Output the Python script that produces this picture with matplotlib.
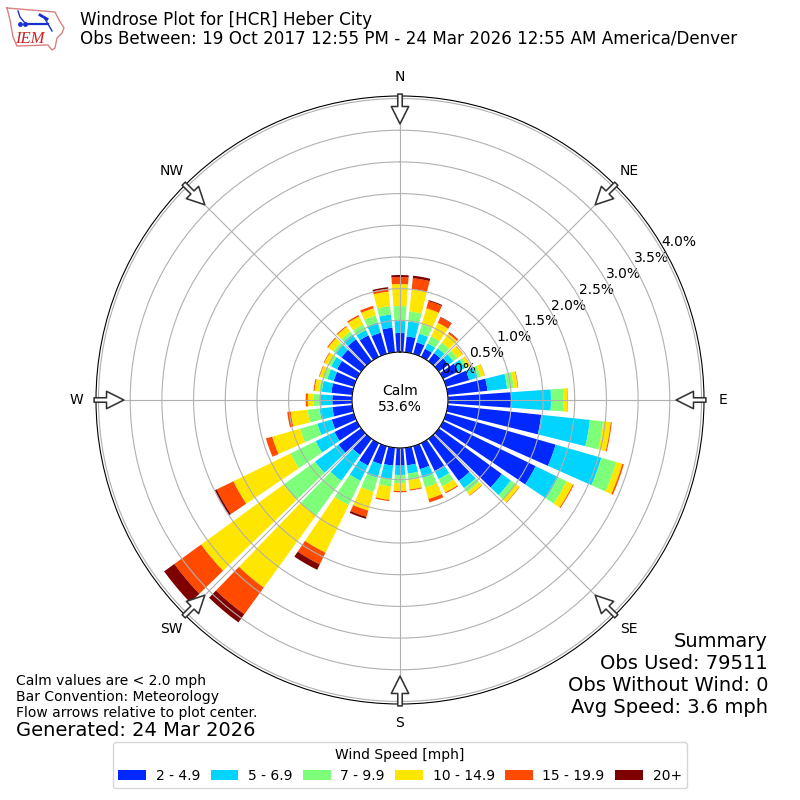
import numpy as np
import matplotlib
matplotlib.use("Agg")
import matplotlib.pyplot as plt

directions = list(range(0, 360, 10))
speed_labels = ["2 - 4.9", "5 - 6.9", "7 - 9.9", "10 - 14.9", "15 - 19.9", "20+"]
colors = ["#0028ff", "#00d4ff", "#7dff7a", "#ffe600", "#ff4a00", "#7f0000"]
rticks = [0.0, 0.5, 1.0, 1.5, 2.0, 2.5, 3.0, 3.5, 4.0]
compass = ["N", "NE", "E", "SE", "S", "SW", "W", "NW"]
compass_deg = [0, 45, 90, 135, 180, 225, 270, 315]

# percent of obs per direction, one list per speed bin
bin_2_5 = [.300, .252, .189, .142, .158, .189, .268, .379, .631, .994, 1.483, 1.798,
           1.625, 1.230, .820, .489, .379, .279, .279, .284, .300, .394, .315, .442,
           .394, .363, .315, .311, .331, .331, .347, .385, .426, .379, .347, .391]
bin_5_7 = [.189, .237, .142, .095, .095, .095, .110, .142, .312, .631, .773, .751,
           .394, .174, .142, .142, .142, .131, .147, .211, .221, .268, .505, .457,
           .331, .237, .205, .205, .153, .104, .104, .107, .095, .095, .169, .208]
bin_7_10 = [.237, .158, .158, .126, .110, .079, .047, .047, .106, .194, .211, .243,
            .150, .095, .079, .126, .158, .103, .131, .120, .229, .426, .678, .615,
            .442, .284, .189, .095, .043, .060, .050, .057, .055, .095, .115, .134]
bin_10_15 = [.347, .355, .260, .237, .174, .103, .047, .063, .063, .069, .120, .101,
             .110, .071, .063, .110, .189, .150, .121, .213, .308, .836, 1.404, 1.609,
             1.002, .457, .268, .088, .073, .069, .074, .098, .095, .142, .118, .229]
bin_15_20 = [.110, .174, .118, .095, .024, .008, .005, .005, .008, .005, .016, .025,
             .016, .008, .008, .016, .055, .016, .021, .019, .103, .205, .521, .521,
             .292, .103, .055, .032, .016, .009, .011, .016, .016, .024, .039, .047]
bin_20 = [.032, .039, .016, .008, .008, 0, 0, 0, 0, 0, 0, 0,
          0, 0, 0, 0, 0, 0, 0, 0, .032, .095, .158, .200,
          .032, 0, 0, 0, 0, 0, 0, 0, 0, 0, 0, .024]
bins = [bin_2_5, bin_5_7, bin_7_10, bin_10_15, bin_15_20, bin_20]

fig = plt.figure(figsize=(8, 8), dpi=100)
ax = fig.add_axes([0.12, 0.12, 0.76, 0.76], projection="polar")
ax.set_theta_zero_location("N")
ax.set_theta_direction(-1)

theta = np.deg2rad(directions)
base = np.zeros(len(directions))
handles = []
for vals, color in zip(bins, colors):
    h = ax.bar(theta, vals, width=np.deg2rad(8), bottom=base, color=color, linewidth=0)
    handles.append(h)
    base = base + np.array(vals)

ax.set_ylim(0, 4.04)
ax.set_rorigin(-0.757)
ax.set_yticks(rticks)
ax.set_yticklabels(["%.1f%%" % t for t in rticks])
ax.set_rlabel_position(60)
ax.set_xticks(np.deg2rad(compass_deg))
ax.set_xticklabels(compass)
ax.grid(True)

# flow arrows on the rim, pointing at the center
for deg in compass_deg:
    ax.annotate("", xy=(np.deg2rad(deg), 3.6), xytext=(np.deg2rad(deg), 4.07),
                annotation_clip=False, zorder=5,
                arrowprops=dict(facecolor="white", edgecolor="#333333", linewidth=1.15,
                                width=3.2, headwidth=12.5, headlength=12.5))

fig.text(0.5, 0.501, "Calm\n53.6%", ha="center", va="center", fontsize=10)
fig.text(0.1, 0.9635, "Windrose Plot for [HCR] Heber City\nObs Between: 19 Oct 2017 12:55 PM - 24 Mar 2026 12:55 AM America/Denver",
         ha="left", va="center", fontsize=12.02, linespacing=1.0)
fig.text(0.96, 0.157, "Summary\nObs Used: 79511\nObs Without Wind: 0\nAvg Speed: 3.6 mph",
         ha="right", va="center", fontsize=14)
fig.text(0.02, 0.129, "Calm values are < 2.0 mph\nBar Convention: Meteorology\nFlow arrows relative to plot center.",
         ha="left", va="center", fontsize=10)
fig.text(0.02, 0.0875, "Generated: 24 Mar 2026", ha="left", va="center", fontsize=14)

fig.legend(handles, speed_labels, title="Wind Speed [mph]", ncols=6, loc="lower center",
           bbox_to_anchor=(0.5, 0.00575), fontsize=10, handletextpad=0.7, columnspacing=0.74)

# IEM logo, in pixel coordinates of its corner
logo = fig.add_axes([0, 1 - 55 / 800, 70 / 800, 55 / 800])
logo.set_xlim(0, 70)
logo.set_ylim(55, 0)
logo.axis("off")
ox = [7, 55, 59, 64, 62, 57, 55, 52, 48, 17, 13, 10, 7]
oy = [8, 12, 20, 28, 33, 38, 48, 50, 45, 46, 37, 20, 8]
logo.plot(ox, oy, color="#d98080", lw=1.0)
logo.plot([18, 20, 25], [11, 17, 23], color="#1a2fd0", lw=1.0)
logo.plot([25, 48], [24, 24], color="#1a2fd0", lw=1.6)
logo.plot([40, 47], [15, 19], color="#1a2fd0", lw=2)
logo.plot([45, 48, 52], [19, 24, 31], color="#1a2fd0", lw=1.0)
logo.plot([20, 25], [24, 24], marker="o", ms=2.5, color="#1a2fd0", lw=0)
logo.text(30, 39, "IEM", color="#cc2222", family="Liberation Serif", style="italic",
          fontsize=12, ha="center", va="center")

fig.savefig("out.png", dpi=100)
